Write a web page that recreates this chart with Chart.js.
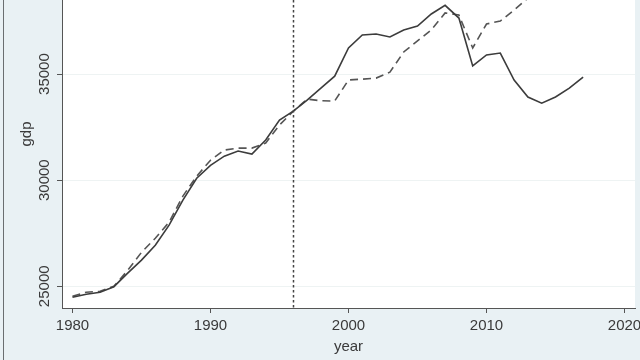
<!DOCTYPE html>
<html>
<head>
<meta charset="utf-8">
<script src="https://cdn.jsdelivr.net/npm/chart.js@4/dist/chart.umd.min.js"></script>
<style>
  html, body { margin: 0; padding: 0; background: #e9f1f4; }
  #wrap { position: relative; width: 640px; height: 360px; }
  #edge { position: absolute; left: 3px; top: 0; width: 1px; height: 360px; background: #6a6e70; }
</style>
</head>
<body>
<div id="wrap">
  <canvas id="chart" width="640" height="360"></canvas>
  <div id="edge"></div>
</div>
<script>
// années et séries
const YEARS = [1980, 1981, 1982, 1983, 1984, 1985, 1986, 1987, 1988, 1989,
  1990, 1991, 1992, 1993, 1994, 1995, 1996, 1997, 1998, 1999,
  2000, 2001, 2002, 2003, 2004, 2005, 2006, 2007, 2008, 2009,
  2010, 2011, 2012, 2013, 2014, 2015, 2016, 2017];

// gdp observé (ligne pleine)
const GDP = [24480, 24620, 24720, 24980, 25620, 26230, 26930, 27880, 29060, 30090,
  30700, 31130, 31370, 31230, 31890, 32830, 33250, 33770, 34340, 34900,
  36230, 36840, 36890, 36750, 37080, 37260, 37830, 38240, 37640, 35380,
  35900, 35990, 34720, 33920, 33630, 33920, 34340, 34860];

// contrefactuel (ligne tiretée), sort du cadre après 2013
const SYNTH = [24530, 24720, 24760, 25000, 25750, 26600, 27260, 28020, 29250, 30190,
  30940, 31420, 31510, 31510, 31750, 32600, 33250, 33820, 33740, 33730,
  34720, 34760, 34810, 35090, 36040, 36560, 37080, 37880, 37780, 36230,
  37360, 37500, 38020, 38580, 39000];

const X_TICKS = [1980, 1990, 2000, 2010, 2020];
const Y_TICKS = [25000, 30000, 35000];
const TREAT_YEAR = 1996;

const FONT = "'Liberation Sans', Arial, sans-serif";
const TXT = "#3a3a3a";
const AXIS = "#555";

const pts = (ys) => ys.map((v, i) => ({ x: YEARS[i], y: v }));

// fond bleuté + zone de tracé blanche + ligne pointillée de l'année de traitement
const decor = {
  id: "decor",
  beforeDraw(chart) {
    const { ctx, chartArea: a } = chart;
    ctx.save();
    ctx.fillStyle = "#e9f1f4";
    ctx.fillRect(0, 0, chart.width, chart.height);
    ctx.fillStyle = "#ffffff";
    ctx.fillRect(a.left, a.top, a.right - a.left, a.bottom - a.top);
    ctx.restore();
  },
  afterDatasetsDraw(chart) {
    const { ctx, chartArea: a, scales } = chart;
    const x = Math.round(scales.x.getPixelForValue(TREAT_YEAR)) + 0.5;
    ctx.save();
    ctx.strokeStyle = "#444";
    ctx.lineWidth = 1.5;
    ctx.setLineDash([2.5, 2.5]);
    ctx.beginPath();
    ctx.moveTo(x, a.top);
    ctx.lineTo(x, a.bottom);
    ctx.stroke();
    ctx.restore();
  },
  // titre de l'axe y : centré sur la zone de tracé complète (rognée en haut)
  afterDraw(chart) {
    const { ctx } = chart;
    ctx.save();
    ctx.translate(27, 134);
    ctx.rotate(-Math.PI / 2);
    ctx.fillStyle = TXT;
    ctx.font = "15px " + FONT;
    ctx.textAlign = "center";
    ctx.textBaseline = "middle";
    ctx.fillText("gdp", 0, 0);
    ctx.restore();
  },
};

new Chart(document.getElementById("chart"), {
  type: "line",
  data: {
    datasets: [
      { label: "gdp", data: pts(GDP), borderColor: "#3c3c3c", borderWidth: 1.6, pointRadius: 0, tension: 0 },
      { label: "synthetic", data: pts(SYNTH), borderColor: "#555", borderWidth: 1.6, borderDash: [8, 5], pointRadius: 0, tension: 0 },
    ],
  },
  options: {
    responsive: false,
    animation: false,
    layout: { padding: { top: 0, right: 5, left: 0, bottom: 0 } },
    plugins: { legend: { display: false }, tooltip: { enabled: false } },
    scales: {
      x: {
        type: "linear",
        min: 1979.24,
        max: 2020.76,
        afterBuildTicks: (s) => { s.ticks = X_TICKS.map((v) => ({ value: v })); },
        afterFit: (s) => { s.height = 52; s.paddingLeft = 0; s.paddingRight = 0; },
        ticks: { color: TXT, font: { family: FONT, size: 15 }, padding: 4, maxRotation: 0, callback: (v) => String(v) },
        grid: { drawOnChartArea: false, drawTicks: true, tickLength: 5, tickColor: AXIS },
        border: { color: AXIS, width: 1 },
        title: { display: true, text: "year", color: TXT, font: { family: FONT, size: 15 }, padding: { top: -4 } },
      },
      y: {
        type: "linear",
        min: 23976,
        max: 38490,
        afterBuildTicks: (s) => { s.ticks = Y_TICKS.map((v) => ({ value: v })); },
        afterFit: (s) => { s.width = 62; s.paddingTop = 0; s.paddingBottom = 0; },
        ticks: { color: TXT, font: { family: FONT, size: 15 }, padding: -9, minRotation: 90, maxRotation: 90, crossAlign: "center", callback: (v) => String(v) },
        grid: { color: "#eef3f3", lineWidth: 1, drawTicks: true, tickLength: 5, tickColor: AXIS },
        border: { color: AXIS, width: 1 },
        title: { display: false },
      },
    },
  },
  plugins: [decor],
});
</script>
</body>
</html>
